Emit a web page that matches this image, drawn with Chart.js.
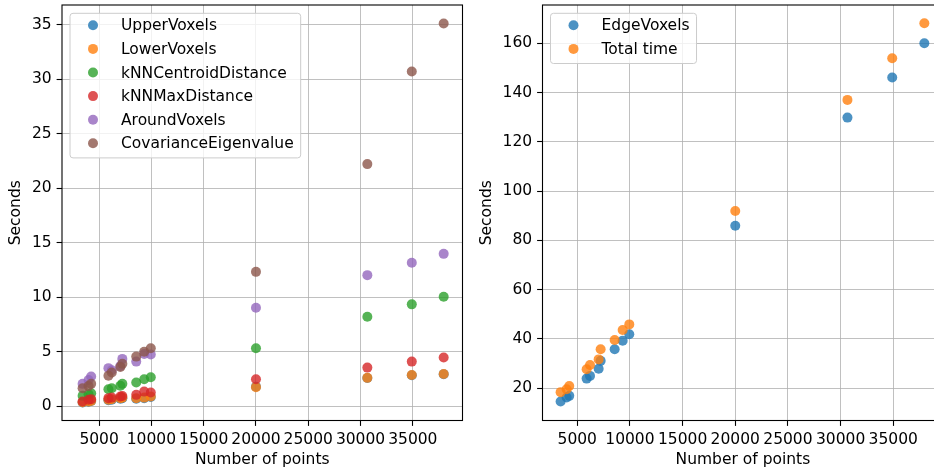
<!DOCTYPE html>
<html>
<head>
<meta charset="utf-8">
<script src="https://cdn.jsdelivr.net/npm/chart.js@4.4.1/dist/chart.umd.min.js"></script>
<style>
  html, body { margin: 0; padding: 0; background: #fff; overflow: hidden; }
  #wrap { position: relative; width: 934px; height: 473px; overflow: hidden; }
  canvas { position: absolute; top: 0; }
  #leftChart { left: 0; }
  #rightChart { left: 470px; }
</style>
</head>
<body>
<div id="wrap">
  <canvas id="leftChart" width="470" height="473"></canvas>
  <canvas id="rightChart" width="480" height="473"></canvas>
</div>
<script>
// Number of points (same for every series)
const numPoints = [3420, 3990, 4240, 5890, 6210, 7030, 7220, 8550, 9310, 9940, 20000, 30650, 34900, 37950];

// Left panel: seconds per step
const upperVoxels = [0.35, 0.42, 0.48, 0.55, 0.60, 0.70, 0.75, 0.70, 0.75, 0.85, 1.80, 2.60, 2.85, 2.95];
const lowerVoxels = [0.38, 0.45, 0.50, 0.60, 0.65, 0.75, 0.80, 0.75, 0.80, 0.90, 1.76, 2.61, 2.88, 2.97];
const knnCentroidDistance = [0.96, 1.11, 1.20, 1.57, 1.66, 1.88, 2.06, 2.18, 2.49, 2.67, 5.32, 8.22, 9.35, 10.05];
const knnMaxDistance = [0.44, 0.60, 0.66, 0.75, 0.80, 0.90, 0.95, 1.05, 1.35, 1.26, 2.49, 3.55, 4.10, 4.47];
const aroundVoxels = [2.06, 2.42, 2.73, 3.50, 3.30, 3.70, 4.35, 4.10, 4.80, 4.75, 9.04, 12.03, 13.16, 13.98];
const covarianceEigenvalue = [1.66, 1.87, 2.06, 2.80, 3.10, 3.60, 3.90, 4.56, 5.01, 5.32, 12.33, 22.21, 30.70, 35.10];

// Right panel
const edgeVoxels = [14.6, 16.2, 16.9, 23.9, 25.0, 27.9, 31.1, 35.8, 39.3, 41.9, 85.9, 129.8, 146.1, 160.0];
const totalTime = [18.4, 19.6, 20.9, 27.7, 29.4, 31.7, 35.8, 39.6, 43.6, 45.9, 91.9, 137.0, 153.9, 168.1];

// Tick labels
const xTicks = [5000, 10000, 15000, 20000, 25000, 30000, 35000];
const leftYTicks = [0, 5, 10, 15, 20, 25, 30, 35];
const rightYTicks = [20, 40, 60, 80, 100, 120, 140, 160];

// tab10 colours, alpha 0.8 like the scatter
const tab10 = [
    'rgba(31,119,180,0.8)', 'rgba(255,127,14,0.8)', 'rgba(44,160,44,0.8)',
    'rgba(214,39,40,0.8)', 'rgba(148,103,189,0.8)', 'rgba(140,86,75,0.8)'
];

const FONT_SIZE = 15.5;
Chart.defaults.font.family = "'DejaVu Sans', sans-serif";
Chart.defaults.font.size = FONT_SIZE;
Chart.defaults.color = '#000';

function makeDatasets(series) {
    return series.map((s, i) => ({
        label: s.label,
        data: numPoints.map((x, j) => ({ x: x, y: s.values[j] })),
        backgroundColor: tab10[i],
        pointRadius: 5,
        pointBorderWidth: 0,
        order: series.length - i
    }));
}

// draw all four spines like matplotlib
const frame = {
    id: 'frame',
    afterDatasetsDraw(chart) {
        const { ctx, chartArea: a } = chart;
        ctx.save();
        ctx.strokeStyle = '#000';
        ctx.lineWidth = 1.1;
        ctx.strokeRect(a.left, a.top, a.right - a.left, a.bottom - a.top);
        ctx.restore();
    }
};

// legend box in the upper left of the plot area
const legendBox = {
    id: 'legendBox',
    afterDraw(chart) {
        const { ctx, chartArea: a } = chart;
        const sets = chart.data.datasets;
        ctx.save();
        ctx.font = FONT_SIZE + "px 'DejaVu Sans'";
        let textW = 0;
        sets.forEach(ds => { textW = Math.max(textW, ctx.measureText(ds.label).width); });
        const x = a.left + 8, y = a.top + 8.3;
        const w = 51 + textW + 7, h = sets.length * 23.6 + 3;
        ctx.beginPath();
        if (ctx.roundRect) ctx.roundRect(x, y, w, h, 3);
        else ctx.rect(x, y, w, h);
        ctx.fillStyle = 'rgba(255,255,255,0.8)';
        ctx.fill();
        ctx.strokeStyle = '#cccccc';
        ctx.lineWidth = 1;
        ctx.stroke();
        ctx.textBaseline = 'middle';
        ctx.textAlign = 'left';
        sets.forEach((ds, i) => {
            const cy = y + 12 + i * 23.6;
            ctx.beginPath();
            ctx.arc(x + 23, cy, 5, 0, Math.PI * 2);
            ctx.fillStyle = ds.backgroundColor;
            ctx.fill();
            ctx.fillStyle = '#000';
            ctx.fillText(ds.label, x + 51, cy + 1);
        });
        ctx.restore();
    }
};

function makeScales(xMin, xMax, yMin, yMax, yTicks, yWidth, yTitlePad) {
    const grid = { color: '#b0b0b0', lineWidth: 0.8, tickColor: '#000', tickWidth: 1.1, tickLength: 5.4 };
    return {
        x: {
            type: 'linear', min: xMin, max: xMax,
            grid: grid,
            border: { display: false },
            ticks: { padding: 5.1, maxRotation: 0, callback: v => String(v) },
            title: { display: true, text: 'Number of points', padding: { top: 0, bottom: 3.7 } },
            afterBuildTicks: axis => { axis.ticks = xTicks.map(v => ({ value: v })); },
            afterFit: axis => { axis.height = 52.5; axis.paddingLeft = 0; axis.paddingRight = 0; }
        },
        y: {
            type: 'linear', min: yMin, max: yMax,
            grid: grid,
            border: { display: false },
            ticks: { padding: 5, callback: v => String(v) },
            title: { display: true, text: 'Seconds', padding: { top: yTitlePad, bottom: 0 } },
            afterBuildTicks: axis => { axis.ticks = yTicks.map(v => ({ value: v })); },
            afterFit: axis => { axis.width = yWidth; axis.paddingTop = 0; axis.paddingBottom = 0; }
        }
    };
}

function makeChart(id, series, scales, rightPad) {
    return new Chart(document.getElementById(id).getContext('2d'), {
        type: 'scatter',
        data: { datasets: makeDatasets(series) },
        options: {
            responsive: false,
            animation: false,
            events: [],
            layout: { padding: { top: 4.7, right: rightPad, bottom: 0, left: 0 } },
            plugins: { legend: { display: false }, tooltip: { enabled: false } },
            scales: scales
        },
        plugins: [frame, legendBox]
    });
}

makeChart('leftChart', [
    { label: 'UpperVoxels', values: upperVoxels },
    { label: 'LowerVoxels', values: lowerVoxels },
    { label: 'kNNCentroidDistance', values: knnCentroidDistance },
    { label: 'kNNMaxDistance', values: knnMaxDistance },
    { label: 'AroundVoxels', values: aroundVoxels },
    { label: 'CovarianceEigenvalue', values: covarianceEigenvalue }
], makeScales(1450, 39750, -1.3, 36.8, leftYTicks, 62, 6.7), 7.5);

makeChart('rightChart', [
    { label: 'EdgeVoxels', values: edgeVoxels },
    { label: 'Total time', values: totalTime }
], makeScales(1700, 39750, 6.9, 175.5, rightYTicks, 72.5, 7.4), 6.7);
</script>
</body>
</html>
